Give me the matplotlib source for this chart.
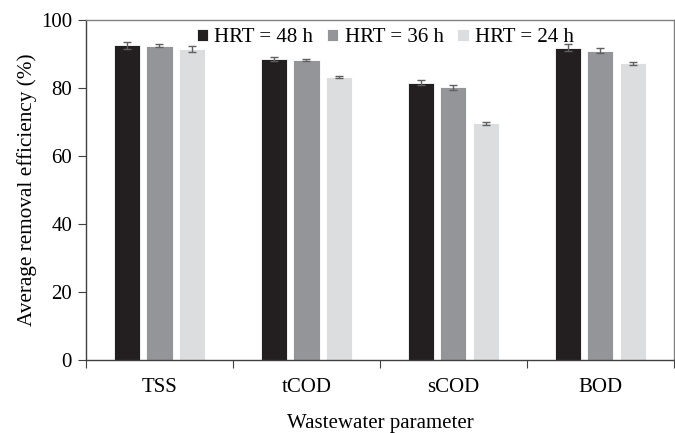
import numpy as np
import matplotlib.pyplot as plt

params = ["TSS", "tCOD", "sCOD", "BOD"]
series = ["HRT = 48 h", "HRT = 36 h", "HRT = 24 h"]
hrt48 = [92.6, 88.4, 81.6, 91.9]
hrt36 = [92.5, 88.2, 80.2, 91.0]
hrt24 = [91.4, 83.2, 69.6, 87.3]
err48 = [1.0, 0.6, 0.85, 1.1]
err36 = [0.3, 0.4, 0.7, 0.65]
err24 = [0.9, 0.2, 0.4, 0.45]
colors = ["#231f20", "#939598", "#dcdddf"]

plt.rcParams["font.family"] = ["Liberation Serif", "DejaVu Serif"]

fig = plt.figure(figsize=(6.75, 4.33), dpi=100)
ax = fig.add_axes([0.1274, 0.1686, 0.8711, 0.7852])

x = np.arange(len(params))
step = 0.222
width = 0.177
vals = [hrt48, hrt36, hrt24]
errs = [err48, err36, err24]
for i in range(3):
    ax.bar(x + (i - 1) * step, vals[i], width, color=colors[i],
           edgecolor="white", linewidth=0.6, label=series[i], zorder=2)
    ax.errorbar(x + (i - 1) * step, vals[i], yerr=errs[i], fmt="none",
                ecolor="#606060", elinewidth=1, capsize=3, capthick=1, zorder=3)

ax.set_xlim(-0.5, 3.5)
ax.set_ylim(0, 100)
ax.set_yticks([0, 20, 40, 60, 80, 100])
ax.set_xticks([-0.5, 0.5, 1.5, 2.5, 3.5])
ax.set_xticklabels([])
ax.set_xticks(x, minor=True)
ax.set_xticklabels(params, minor=True)
ax.tick_params(axis="x", which="minor", length=0, pad=13, labelsize=15)
ax.tick_params(axis="x", which="major", length=6, direction="out", color="#404040")
ax.tick_params(axis="y", length=6, direction="out", labelsize=15, pad=4, color="#404040")

for s in ["left", "bottom"]:
    ax.spines[s].set_color("#404040")
    ax.spines[s].set_linewidth(1.0)
for s in ["top", "right"]:
    ax.spines[s].set_color("#808080")
    ax.spines[s].set_linewidth(1.0)

ax.set_ylabel("Average removal efficiency (%)", fontsize=15.3, labelpad=3)
ax.set_xlabel("Wastewater parameter", fontsize=15)
ax.xaxis.set_label_coords(0.5, -0.16)

ax.legend(loc="center", bbox_to_anchor=(0.509, 0.948), ncol=3, frameon=False,
          fontsize=15, handlelength=0.55, handleheight=0.55, handletextpad=0.3,
          columnspacing=0.65, borderpad=0)

fig.savefig("out.png", dpi=100)
